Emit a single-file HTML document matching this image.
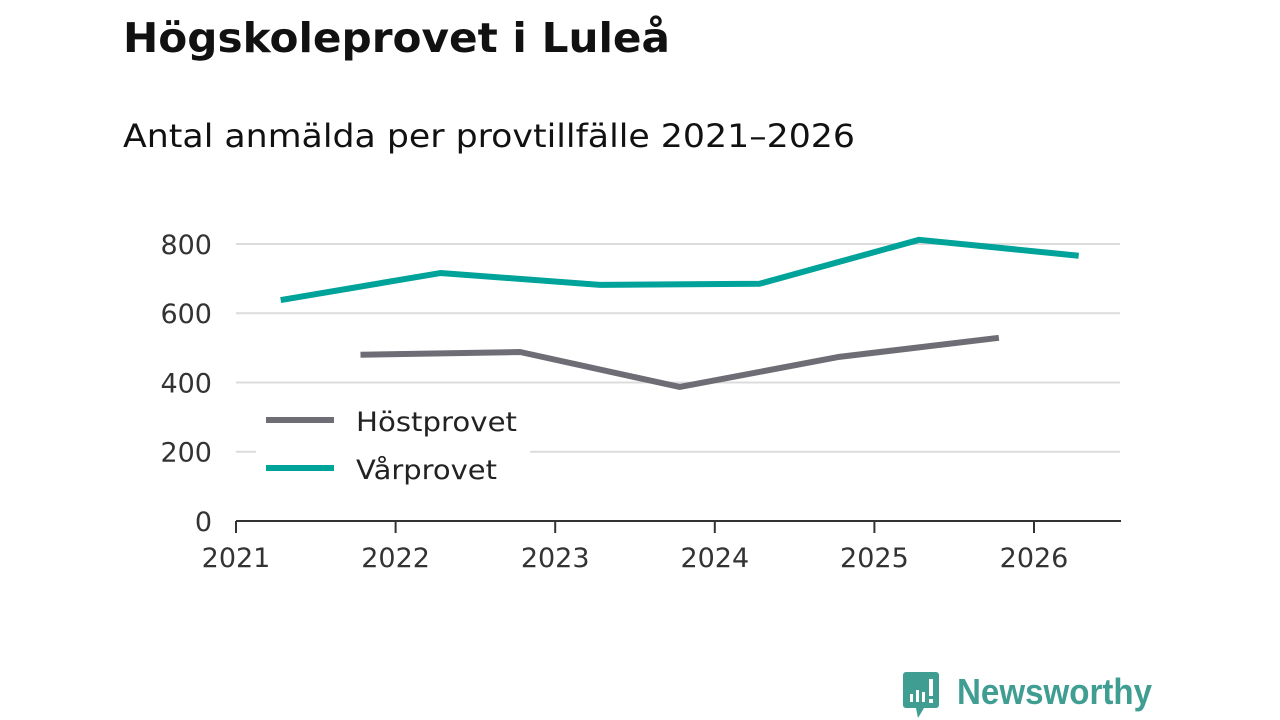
<!DOCTYPE html>
<html><head><meta charset="utf-8"><style>
body{margin:0;width:1280px;height:720px;background:#fff;overflow:hidden;font-family:"DejaVu Sans","Liberation Sans",sans-serif}
svg{position:absolute;left:0;top:0}
</style></head><body>
<svg width="1280" height="720">
<text x="123" y="52" font-size="41" font-weight="bold" fill="#111" textLength="547" lengthAdjust="spacingAndGlyphs">Högskoleprovet i Luleå</text>
<text x="123" y="147" font-size="32" fill="#111" textLength="732" lengthAdjust="spacingAndGlyphs">Antal anmälda per provtillfälle 2021–2026</text>
<g id="grid"></g><g id="lines"></g>
<rect x="256" y="402" width="274" height="92" fill="#fff"/>
<line x1="266" y1="420" x2="334" y2="420" stroke="#6e6d75" stroke-width="6"/>
<text x="356" y="431" font-size="27" fill="#222" textLength="161" lengthAdjust="spacingAndGlyphs">Höstprovet</text>
<line x1="266" y1="468" x2="334" y2="468" stroke="#00a39a" stroke-width="6"/>
<text x="356" y="479" font-size="27" fill="#222" textLength="141" lengthAdjust="spacingAndGlyphs">Vårprovet</text>
<g>
<path d="M906 672 h30 a3 3 0 0 1 3 3 v30 a3 3 0 0 1 -3 3 h-12 l-6 10 l-2 -10 h-10 a3 3 0 0 1 -3 -3 v-30 a3 3 0 0 1 3 -3z" fill="#3f9d92"/>
<rect x="910" y="694" width="3" height="8" fill="#fff"/><rect x="916" y="690" width="3" height="12" fill="#fff"/><rect x="922" y="692" width="3" height="10" fill="#fff"/><rect x="929" y="679" width="4" height="17" fill="#fff"/><rect x="929" y="699" width="4" height="4" fill="#fff"/>
<text x="957" y="704" font-size="36" font-family="Liberation Sans, sans-serif" font-weight="bold" fill="#3f9d92" textLength="195" lengthAdjust="spacingAndGlyphs">Newsworthy</text>
</g>
</svg>
<script>
const yTicks=[0,200,400,600,800];
const xTicks=[2021,2022,2023,2024,2025,2026];
const hostX=[2021.78,2022.78,2023.78,2024.78,2025.78];
const hostV=[480,488,387,474,529];
const varX=[2021.28,2022.28,2023.28,2024.28,2025.28,2026.28];
const varV=[638,716,682,685,812,766];
const X=v=>236+(v-2021)*159.6, Y=v=>521-v*0.3463;
const ns="http://www.w3.org/2000/svg";
const g=document.getElementById('grid'), L=document.getElementById('lines');
function mk(tag,a,p){const e=document.createElementNS(ns,tag);for(const k in a)e.setAttribute(k,a[k]);p.appendChild(e);return e;}
yTicks.forEach(v=>{
 if(v>0){const l=mk('line',{x1:236,x2:1120,y1:Y(v),y2:Y(v),stroke:'#dcdcdc','stroke-width':2},g);
 
 }
 const t=mk('text',{x:212,y:Y(v)+10,'font-size':27,fill:'#333','text-anchor':'end'},g);t.textContent=v;
 
 
});
const ax=mk('line',{x1:236,x2:1121,y1:521,y2:521,stroke:'#333','stroke-width':2},g);


xTicks.forEach(v=>{
 const tk=mk('line',{x1:X(v),x2:X(v),y1:521,y2:533,stroke:'#333','stroke-width':2},g);
 
 
 const t=mk('text',{x:X(v),y:567,'font-size':27,fill:'#333','text-anchor':'middle'},g);t.textContent=v;
 
 
});
function line(xs,vs,c,n){const p=mk('polyline',{points:xs.map((x,i)=>X(x)+','+Y(vs[i])).join(' '),fill:'none',stroke:c,'stroke-width':6,'stroke-linejoin':'round'},L);
 
 }
line(hostX,hostV,'#6e6d75','line-hostprovet');
line(varX,varV,'#00a39a','line-varprovet');
</script>
</body></html>
